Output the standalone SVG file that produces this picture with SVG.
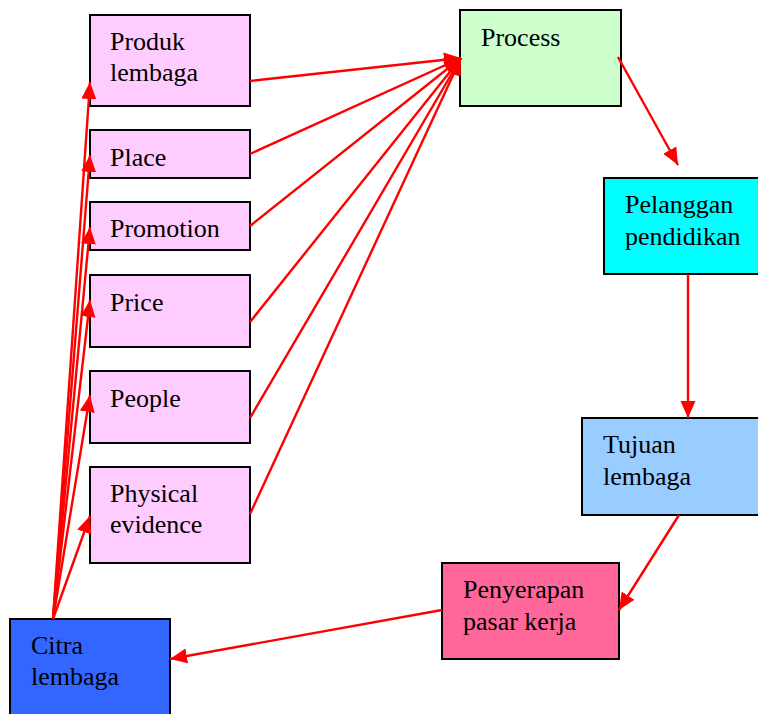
<svg xmlns="http://www.w3.org/2000/svg" width="758" height="714" viewBox="0 0 758 714">
<defs>
<style>
.box{stroke:#000;stroke-width:2}
text{font-size:26px;fill:#000}
.c{stroke:#f00;stroke-width:2.4;fill:none;marker-end:url(#ah)}
</style>
<marker id="ah" markerUnits="userSpaceOnUse" markerWidth="20" markerHeight="18" refX="17" refY="7.5" orient="auto" viewBox="0 0 20 15">
<path d="M0,0 L17,7.5 L0,15 Z" fill="#f00"/>
</marker>
</defs>
<rect width="758" height="714" fill="#fff"/>
<g font-family="'Liberation Serif', 'Times New Roman', 'DejaVu Serif', serif">
<g id="produk"><rect class="box" x="90" y="15" width="160" height="91" fill="#FFCCFF"/><text x="110" y="50">Produk</text><text x="110" y="81">lembaga</text></g>
<g id="place"><rect class="box" x="90" y="130" width="160" height="48" fill="#FFCCFF"/><text x="110" y="166">Place</text></g>
<g id="promotion"><rect class="box" x="90" y="202" width="160" height="48" fill="#FFCCFF"/><text x="110" y="237">Promotion</text></g>
<g id="price"><rect class="box" x="90" y="275" width="160" height="72" fill="#FFCCFF"/><text x="110" y="311">Price</text></g>
<g id="people"><rect class="box" x="90" y="371" width="160" height="72" fill="#FFCCFF"/><text x="110" y="407">People</text></g>
<g id="physical"><rect class="box" x="90" y="467" width="160" height="96" fill="#FFCCFF"/><text x="110" y="502">Physical</text><text x="110" y="533">evidence</text></g>
<g id="citra"><rect class="box" x="10" y="619" width="160" height="110" fill="#3366FF"/><text x="31" y="654">Citra</text><text x="31" y="685">lembaga</text></g>
<g id="process"><rect class="box" x="460" y="10" width="161" height="96" fill="#CCFFCC"/><text x="481" y="46">Process</text></g>
<g id="pelanggan"><rect class="box" x="604" y="178" width="170" height="96" fill="#00FFFF"/><text x="625" y="213">Pelanggan</text><text x="625" y="245">pendidikan</text></g>
<g id="tujuan"><rect class="box" x="582" y="418" width="190" height="97" fill="#99CCFF"/><text x="603" y="453">Tujuan</text><text x="603" y="485">lembaga</text></g>
<g id="penyerapan"><rect class="box" x="442" y="563" width="177" height="96" fill="#FF6699"/><text x="463" y="598">Penyerapan</text><text x="463" y="630">pasar kerja</text></g>
</g>
<g id="connectors">
<line class="c" x1="250" y1="81" x2="461" y2="58"/>
<line class="c" x1="250" y1="154" x2="461" y2="58"/>
<line class="c" x1="250" y1="226" x2="461" y2="58"/>
<line class="c" x1="250" y1="322" x2="461" y2="58"/>
<line class="c" x1="250" y1="418" x2="461" y2="58"/>
<line class="c" x1="250" y1="514" x2="461" y2="58"/>
<line class="c" x1="53" y1="619" x2="90" y2="82"/>
<line class="c" x1="53" y1="619" x2="90" y2="155"/>
<line class="c" x1="53" y1="619" x2="90" y2="227"/>
<line class="c" x1="53" y1="619" x2="90" y2="300"/>
<line class="c" x1="53" y1="619" x2="90" y2="395"/>
<line class="c" x1="53" y1="619" x2="90" y2="516"/>
<line class="c" x1="618" y1="57" x2="678" y2="165"/>
<line class="c" x1="688" y1="274" x2="688" y2="418"/>
<line class="c" x1="679" y1="515" x2="619" y2="610"/>
<line class="c" x1="442" y1="610" x2="170" y2="659"/>
</g>
</svg>
